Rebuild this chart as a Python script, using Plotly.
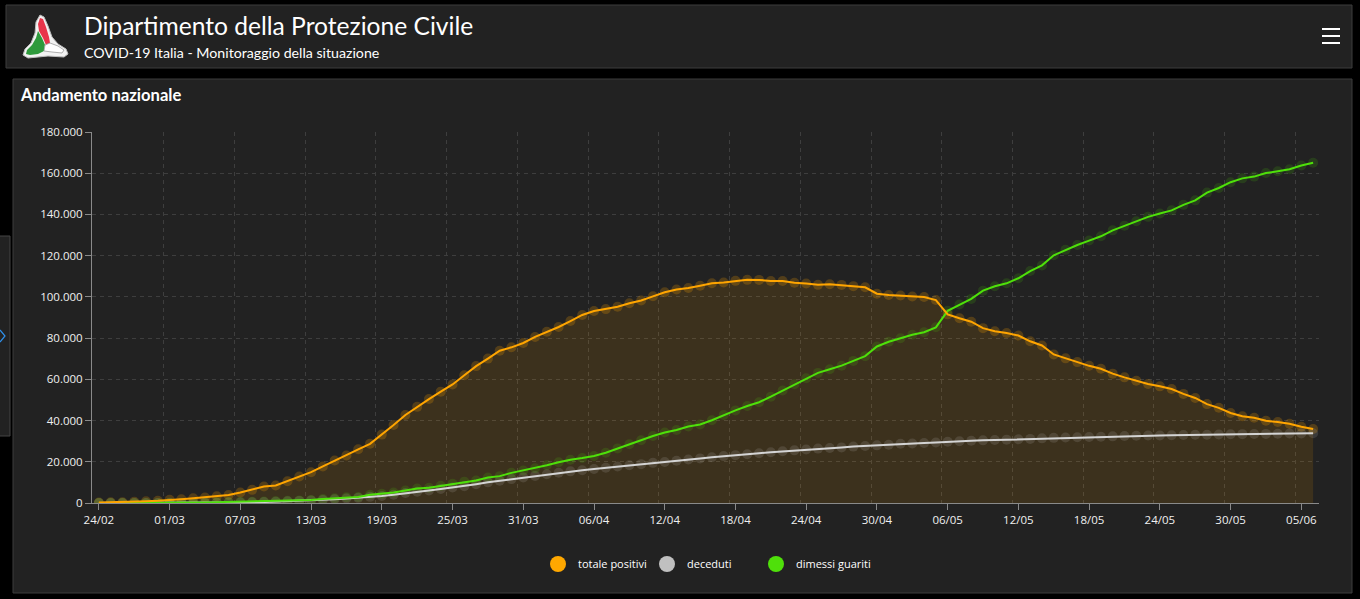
"""Andamento nazionale COVID-19 - Protezione Civile dashboard, rifatto in plotly."""
import pandas as pd
import plotly.graph_objects as go

dates = pd.date_range("2020-02-24", "2020-06-06", freq="D")

totale_positivi = [
    221, 311, 385, 588, 821, 1049, 1577, 1835, 2263, 2706,
    3296, 3916, 5061, 6387, 7985, 8514, 10590, 12839, 14955, 17750,
    20603, 23073, 26062, 28710, 33190, 37860, 42681, 46638, 50418, 54030,
    57521, 62013, 66414, 70065, 73880, 75528, 77635, 80572, 83049, 85388,
    88274, 91246, 93187, 94067, 95262, 96877, 98273, 100269, 102253, 103616,
    104291, 105418, 106607, 106962, 107771, 108257, 108237, 107709, 107699, 106848,
    106527, 105847, 106103, 105813, 105205, 104657, 101551, 100943, 100704, 100179,
    99980, 98467, 91528, 89624, 87961, 84842, 83324, 82488, 81266, 78457,
    76440, 72070, 70187, 68351, 66553, 65129, 62752, 60960, 59322, 57752,
    56594, 55300, 52942, 50966, 47986, 46175, 43691, 42075, 41367, 39893,
    39297, 38429, 36976, 35877,
]
deceduti = [
    7, 10, 12, 17, 21, 29, 34, 52, 79, 107,
    148, 197, 233, 366, 463, 631, 827, 1016, 1266, 1441,
    1809, 2158, 2503, 2978, 3405, 4032, 4825, 5476, 6077, 6820,
    7503, 8165, 9134, 10023, 10779, 11591, 12428, 13155, 13915, 14681,
    15362, 15887, 16523, 17127, 17669, 18279, 18849, 19468, 19899, 20465,
    21067, 21645, 22170, 22745, 23227, 23660, 24114, 24648, 25085, 25549,
    25969, 26384, 26644, 26977, 27359, 27682, 27967, 28236, 28710, 28884,
    29079, 29315, 29684, 29958, 30201, 30395, 30560, 30739, 30911, 31106,
    31368, 31610, 31763, 31908, 32007, 32169, 32330, 32486, 32616, 32735,
    32785, 32877, 32955, 33072, 33142, 33229, 33340, 33415, 33475, 33530,
    33601, 33689, 33774, 33846,
]
dimessi_guariti = [
    1, 1, 3, 45, 46, 50, 83, 149, 160, 276,
    414, 523, 589, 622, 724, 1004, 1045, 1258, 1439, 1966,
    2335, 2749, 2941, 4025, 4440, 5129, 6072, 7024, 7432, 8326,
    9362, 10361, 10950, 12384, 13030, 14620, 15729, 16847, 18278, 19758,
    20996, 21815, 22837, 24392, 26491, 28470, 30455, 32534, 34211, 35435,
    37130, 38092, 40164, 42727, 44927, 47055, 48877, 51600, 54543, 57576,
    60498, 63120, 64928, 66624, 68941, 71252, 75945, 78249, 79914, 81654,
    82879, 85231, 93245, 96276, 99023, 103031, 105186, 106587, 109039, 112541,
    115288, 120205, 122810, 125176, 127326, 129401, 132282, 134560, 136720, 138840,
    140479, 141981, 144658, 146839, 150604, 152844, 155633, 157507, 158355, 160092,
    160938, 161895, 163781, 165078,
]

series = [
    ("totale positivi", totale_positivi, "#ffa500", "rgba(255,165,0,0.22)", "#ffa800"),
    ("deceduti", deceduti, "#d4d4d4", "rgba(200,200,200,0.15)", "#c0c0c0"),
    ("dimessi guariti", dimessi_guariti, "#4ee00a", "rgba(78,224,10,0.15)", "#4fe00a"),
]

# plot area in pixels (page 1360x599)
L, R, T, B = 92, 1319, 132, 503
W, H = 1360, 599


def px(x):
    return (x - L) / (R - L)


def py(y):
    return (B - y) / (B - T)


fig = go.Figure()

# area under totale positivi
fig.add_trace(go.Scatter(
    x=dates, y=totale_positivi, mode="lines", fill="tozeroy",
    fillcolor="rgba(255,165,0,0.12)", line=dict(width=0),
    showlegend=False, hoverinfo="skip",
))

for name, values, line_color, marker_color, _ in series:
    fig.add_trace(go.Scatter(
        x=dates, y=values, mode="markers",
        marker=dict(size=10, color=marker_color),
        showlegend=False, hoverinfo="skip",
    ))

for name, values, line_color, marker_color, _ in [series[1], series[2], series[0]]:
    fig.add_trace(go.Scatter(
        x=dates, y=values, mode="lines", name=name,
        line=dict(color=line_color, width=2),
        showlegend=False,
    ))

# legend entries (solo cerchi)
for name, values, line_color, marker_color, legend_color in series:
    fig.add_trace(go.Scatter(
        x=[None], y=[None], mode="markers", name=name,
        marker=dict(size=16, color=legend_color),
    ))
# empty entry so the last label is not clipped by the legend box
fig.add_trace(go.Scatter(
    x=[None], y=[None], mode="markers", name=" ",
    marker=dict(size=1, color="rgba(0,0,0,0)"),
))

# invisible trace on the shifted axis that carries the vertical grid
fig.add_trace(go.Scatter(
    x=[dates[0]], y=[0], xaxis="x2", mode="markers",
    marker=dict(size=1, color="rgba(0,0,0,0)"),
    showlegend=False, hoverinfo="skip",
))

x_start = pd.Timestamp("2020-02-23 10:00")
x_end = pd.Timestamp("2020-06-06 12:00")
half_day = pd.Timedelta(hours=12)

shapes = []
# header panel
shapes.append(dict(type="rect", xref="paper", yref="paper",
                   x0=px(6), x1=px(1352), y0=py(5), y1=py(68),
                   fillcolor="#222222", line=dict(color="#3c3c3c", width=1), layer="below"))
# chart panel
shapes.append(dict(type="rect", xref="paper", yref="paper",
                   x0=px(13), x1=px(1352), y0=py(79), y1=py(593),
                   fillcolor="#222222", line=dict(color="#3c3c3c", width=1), layer="below"))
# side tab on the left
shapes.append(dict(type="rect", xref="paper", yref="paper",
                   x0=px(-2), x1=px(10), y0=py(236), y1=py(436),
                   fillcolor="#222222", line=dict(color="#444444", width=1), layer="below"))
shapes.append(dict(type="path", xref="paper", yref="paper",
                   path=f"M {px(0)},{py(330)} L {px(5)},{py(336)} L {px(0)},{py(342)}",
                   line=dict(color="#2f8fe8", width=1.2)))
# hamburger menu
for yy in (29, 36, 43):
    shapes.append(dict(type="rect", xref="paper", yref="paper",
                       x0=px(1322), x1=px(1340), y0=py(yy - 1), y1=py(yy + 1),
                       fillcolor="white", line=dict(width=0)))


# logo (approssimato)
def path(points):
    return "M " + " L ".join(f"{px(a)},{py(b)}" for a, b in points) + " Z"


shapes.append(dict(type="path", xref="paper", yref="paper",
                   path=path([(40, 15), (44, 17), (48, 26), (52, 37), (58, 44), (66, 49),
                              (68, 54), (64, 57), (48, 56), (38, 57), (28, 58), (23, 55),
                              (25, 49), (31, 43), (35, 33), (36, 22)]),
                   fillcolor="#f2f2f2", line=dict(color="#bbbbbb", width=1)))
shapes.append(dict(type="path", xref="paper", yref="paper",
                   path=path([(40, 18), (43, 19), (46, 27), (49, 37), (50, 43), (46, 45),
                              (43, 38), (39, 31), (38, 24)]),
                   fillcolor="#e8344a", line=dict(width=0)))
shapes.append(dict(type="path", xref="paper", yref="paper",
                   path=path([(38, 31), (42, 38), (45, 45), (44, 51), (38, 54), (30, 55),
                              (26, 54), (27, 50), (32, 45), (36, 38)]),
                   fillcolor="#2e9a3c", line=dict(width=0)))
shapes.append(dict(type="path", xref="paper", yref="paper",
                   path=path([(45, 45), (50, 43), (58, 46), (64, 50), (62, 53), (52, 52),
                              (44, 51)]),
                   fillcolor="#ffffff", line=dict(color="#9a9a9a", width=0.8)))

annotations = [
    dict(text="Dipartimento della Protezione Civile", x=px(82), y=py(26),
         xanchor="left", yanchor="middle", font=dict(size=24.6, color="white", family="Lato")),
    dict(text="COVID-19 Italia - Monitoraggio della situazione", x=px(82), y=py(53),
         xanchor="left", yanchor="middle", font=dict(size=14.2, color="white", family="Lato")),
    dict(text="<b>Andamento nazionale</b>", x=px(18), y=py(95),
         xanchor="left", yanchor="middle", font=dict(size=16.6, color="white", family="Lato")),
]
for a in annotations:
    a.update(xref="paper", yref="paper", showarrow=False)

tick_font = dict(size=11.5, color="#f0f0f0", family="Open Sans")
grid_dash = "4px,4px"

fig.update_layout(
    width=W, height=H,
    margin=dict(l=L, r=W - R, t=T, b=H - B),
    paper_bgcolor="#000000",
    plot_bgcolor="#222222",
    separators=",.",
    font=dict(family="Open Sans", color="white", size=11),
    shapes=shapes,
    annotations=annotations,
    showlegend=True,
    legend=dict(
        orientation="h", x=px(538), xanchor="left", y=py(564), yanchor="middle",
        font=dict(size=11, color="white", family="Open Sans"),
        entrywidth=64, entrywidthmode="pixels",
        bgcolor="rgba(0,0,0,0)",
    ),
    xaxis=dict(
        type="date", range=[x_start, x_end],
        tick0="2020-02-24", dtick=6 * 86400000, tickformat="%d/%m",
        showgrid=False, zeroline=False,
        showline=True, linecolor="#8a8a8a", linewidth=1,
        ticks="outside", ticklen=6, tickcolor="#8a8a8a",
        tickfont=tick_font,
    ),
    xaxis2=dict(
        type="date", overlaying="x", anchor="y",
        range=[x_start + half_day, x_end + half_day],
        tick0="2020-02-24", dtick=6 * 86400000,
        showgrid=True, gridcolor="#3e3e3e", griddash=grid_dash, gridwidth=1,
        showticklabels=False, ticks="", showline=False, zeroline=False,
    ),
    yaxis=dict(
        range=[0, 180000], dtick=20000, tickformat=",d",
        showgrid=True, gridcolor="#3e3e3e", griddash=grid_dash, gridwidth=1,
        zeroline=False,
        showline=True, linecolor="#8a8a8a", linewidth=1,
        ticks="outside", ticklen=6, tickcolor="#8a8a8a",
        tickfont=tick_font,
    ),
)

fig.write_html(
    "out.html",
    config={"displayModeBar": False},
    post_script="document.body.style.margin='0';document.body.style.background='#000';",
)
